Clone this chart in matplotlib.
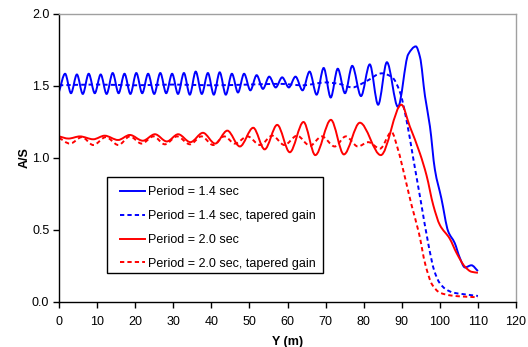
import numpy as np
import matplotlib
matplotlib.use("Agg")
import matplotlib.pyplot as plt
from matplotlib.path import Path
from matplotlib.patches import PathPatch, Rectangle
from matplotlib.lines import Line2D

plt.rcParams['font.family'] = ['Liberation Sans', 'DejaVu Sans']

# ---- data: distance Y (m) and amplification A/S ----
y_14 = [0, 1.6, 3.15, 4.7, 6.25, 7.8, 9.4, 10.95, 12.5, 14.1, 15.65, 17.2, 18.75,
        20.3, 21.85, 23.4, 25.0, 26.6, 28.15, 29.7, 31.25, 32.8, 34.35, 35.9, 37.5,
        39.1, 40.65, 42.2, 43.8, 45.4, 47.0, 48.6, 50.25, 51.9, 53.55, 55.2, 56.9,
        58.6, 60.35, 62.1, 63.95, 65.8, 67.65, 69.5, 71.35, 73.2, 75.1, 77.0, 79.3,
        81.6, 83.8, 86.1, 89.0, 91.7, 93.7, 94.8, 96.1, 97.4, 98.7, 100.4, 102.2,
        103.9, 105.2, 106.6, 108.3, 110]
as_14 = [1.46, 1.585, 1.45, 1.58, 1.445, 1.585, 1.45, 1.58, 1.445, 1.59, 1.45, 1.585, 1.445,
         1.59, 1.45, 1.585, 1.445, 1.59, 1.45, 1.585, 1.445, 1.59, 1.44, 1.60, 1.445,
         1.59, 1.44, 1.595, 1.44, 1.585, 1.455, 1.585, 1.47, 1.575, 1.48, 1.565, 1.49,
         1.56, 1.49, 1.565, 1.47, 1.60, 1.44, 1.625, 1.42, 1.62, 1.45, 1.64, 1.43,
         1.65, 1.37, 1.665, 1.355, 1.72, 1.775, 1.70, 1.43, 1.22, 0.92, 0.72, 0.49,
         0.41, 0.31, 0.24, 0.255, 0.215]

y_14t = [0, 10, 20, 30, 40, 50, 58, 64, 70, 73.5, 77, 80.5, 84.8, 87.5, 89.5, 91.2,
         93, 95, 97, 98.5, 100, 101.5, 103.5, 106, 110]
as_14t = [1.505, 1.51, 1.505, 1.51, 1.505, 1.51, 1.515, 1.505, 1.525, 1.515, 1.49, 1.53,
          1.588, 1.56, 1.46, 1.27, 1.0, 0.70, 0.40, 0.22, 0.13, 0.09, 0.065, 0.055, 0.042]

y_20 = [0, 2.5, 5.5, 9, 12, 15.5, 18.6, 22, 25.2, 28.3, 31.3, 34.5, 37.8, 41, 44.2,
        47.5, 51, 54, 57.3, 60.6, 64.2, 67.3, 71.4, 74.8, 79, 84.5, 89.9, 92.1, 94.8,
        96.5, 98.3, 100, 102.6, 104.4, 106.6, 108.3, 110]
as_20 = [1.15, 1.135, 1.15, 1.13, 1.155, 1.125, 1.16, 1.12, 1.165, 1.115, 1.165, 1.11,
         1.175, 1.10, 1.19, 1.08, 1.21, 1.06, 1.23, 1.04, 1.25, 1.02, 1.265, 1.025, 1.245,
         1.02, 1.37, 1.22, 1.03, 0.88, 0.67, 0.535, 0.44, 0.34, 0.245, 0.21, 0.203]

y_20t = [0, 2.9, 6, 9, 12.3, 15.6, 18.6, 21.7, 24.8, 27.8, 31, 34.4, 37.4, 40.5, 43.4,
         46.2, 49.5, 52.8, 56, 59.2, 62.5, 65.9, 69, 72.4, 75.3, 78.5, 81.2, 84.3, 87.3,
         89, 90.8, 92.6, 94.5, 96.2, 98, 100, 103, 106, 110]
as_20t = [1.14, 1.10, 1.145, 1.09, 1.145, 1.09, 1.15, 1.10, 1.15, 1.095, 1.15, 1.095,
          1.15, 1.09, 1.15, 1.10, 1.15, 1.09, 1.155, 1.09, 1.155, 1.085, 1.15, 1.08,
          1.15, 1.08, 1.11, 1.065, 1.18, 1.06, 0.87, 0.67, 0.48, 0.26, 0.12, 0.065,
          0.045, 0.038, 0.033]

labels = ["Period = 1.4 sec", "Period = 1.4 sec, tapered gain",
          "Period = 2.0 sec", "Period = 2.0 sec, tapered gain"]


def smooth_path(x, y):
    """Smoothed line through the points as cubic Bezier segments
    (monotone Hermite tangents, similar to a spreadsheet's smoothed line)."""
    x = np.asarray(x, float)
    y = np.asarray(y, float)
    h = np.diff(x)
    d = np.diff(y) / h
    m = np.zeros_like(y)
    m[0], m[-1] = d[0], d[-1]
    for k in range(1, len(x) - 1):
        if d[k - 1] * d[k] <= 0:
            m[k] = 0.0
        else:
            w1 = 2 * h[k] + h[k - 1]
            w2 = h[k] + 2 * h[k - 1]
            m[k] = (w1 + w2) / (w1 / d[k - 1] + w2 / d[k])
    verts = [(x[0], y[0])]
    codes = [Path.MOVETO]
    for i in range(len(x) - 1):
        verts += [(x[i] + h[i] / 3, y[i] + m[i] * h[i] / 3),
                  (x[i + 1] - h[i] / 3, y[i + 1] - m[i + 1] * h[i] / 3),
                  (x[i + 1], y[i + 1])]
        codes += [Path.CURVE4] * 3
    return Path(verts, codes)


fig = plt.figure(figsize=(5.28, 3.47), dpi=100)
ax = fig.add_axes([59 / 528, 1 - 302 / 347, 457 / 528, 288 / 347])

blue, red = '#0000FF', '#FF0000'
dash = (0, (2.2, 1.6))
series = [(y_14, as_14, blue, '-'), (y_14t, as_14t, blue, dash),
          (y_20, as_20, red, '-'), (y_20t, as_20t, red, dash)]
handles = []
for (xs, ys, c, ls), lab in zip(series, labels):
    ax.add_patch(PathPatch(smooth_path(xs, ys), fill=False, edgecolor=c,
                           lw=1.4, linestyle=ls, capstyle='butt'))
    handles.append(Line2D([], [], color=c, lw=1.4, linestyle=ls))

ax.set_xlim(0, 120)
ax.set_ylim(0, 2.0)
ax.set_xticks(np.arange(0, 121, 10))
ax.set_yticks(np.arange(0, 2.01, 0.5))
ax.yaxis.set_major_formatter(matplotlib.ticker.FormatStrFormatter('%.1f'))
ax.tick_params(direction='out', length=4, width=1, labelsize=9, colors='black')
ax.tick_params(axis='x', pad=6)
ax.tick_params(axis='y', pad=3)
for s in ('left', 'bottom'):
    ax.spines[s].set_color('black')
    ax.spines[s].set_linewidth(1)
for s in ('top', 'right'):
    ax.spines[s].set_color('#a0a0a0')
    ax.spines[s].set_linewidth(1)

ax.set_xlabel('Y (m)', fontsize=9, fontweight='bold', labelpad=6)
ax.set_ylabel('A/S', fontsize=9, fontweight='bold', labelpad=1)

# legend box with a wider left margin than the default frame allows
ax.add_patch(Rectangle((0.105, 0.1007), 0.473, 0.333, transform=ax.transAxes,
                       facecolor='white', edgecolor='black', lw=1, zorder=4))
leg = ax.legend(handles, labels, loc='upper left', bbox_to_anchor=(0.1335, 0.402),
                fontsize=9, frameon=False, borderpad=0, labelspacing=0.95,
                handlelength=2.0, handletextpad=0.25, borderaxespad=0)
leg.set_zorder(5)

fig.savefig('out.png', dpi=100)
